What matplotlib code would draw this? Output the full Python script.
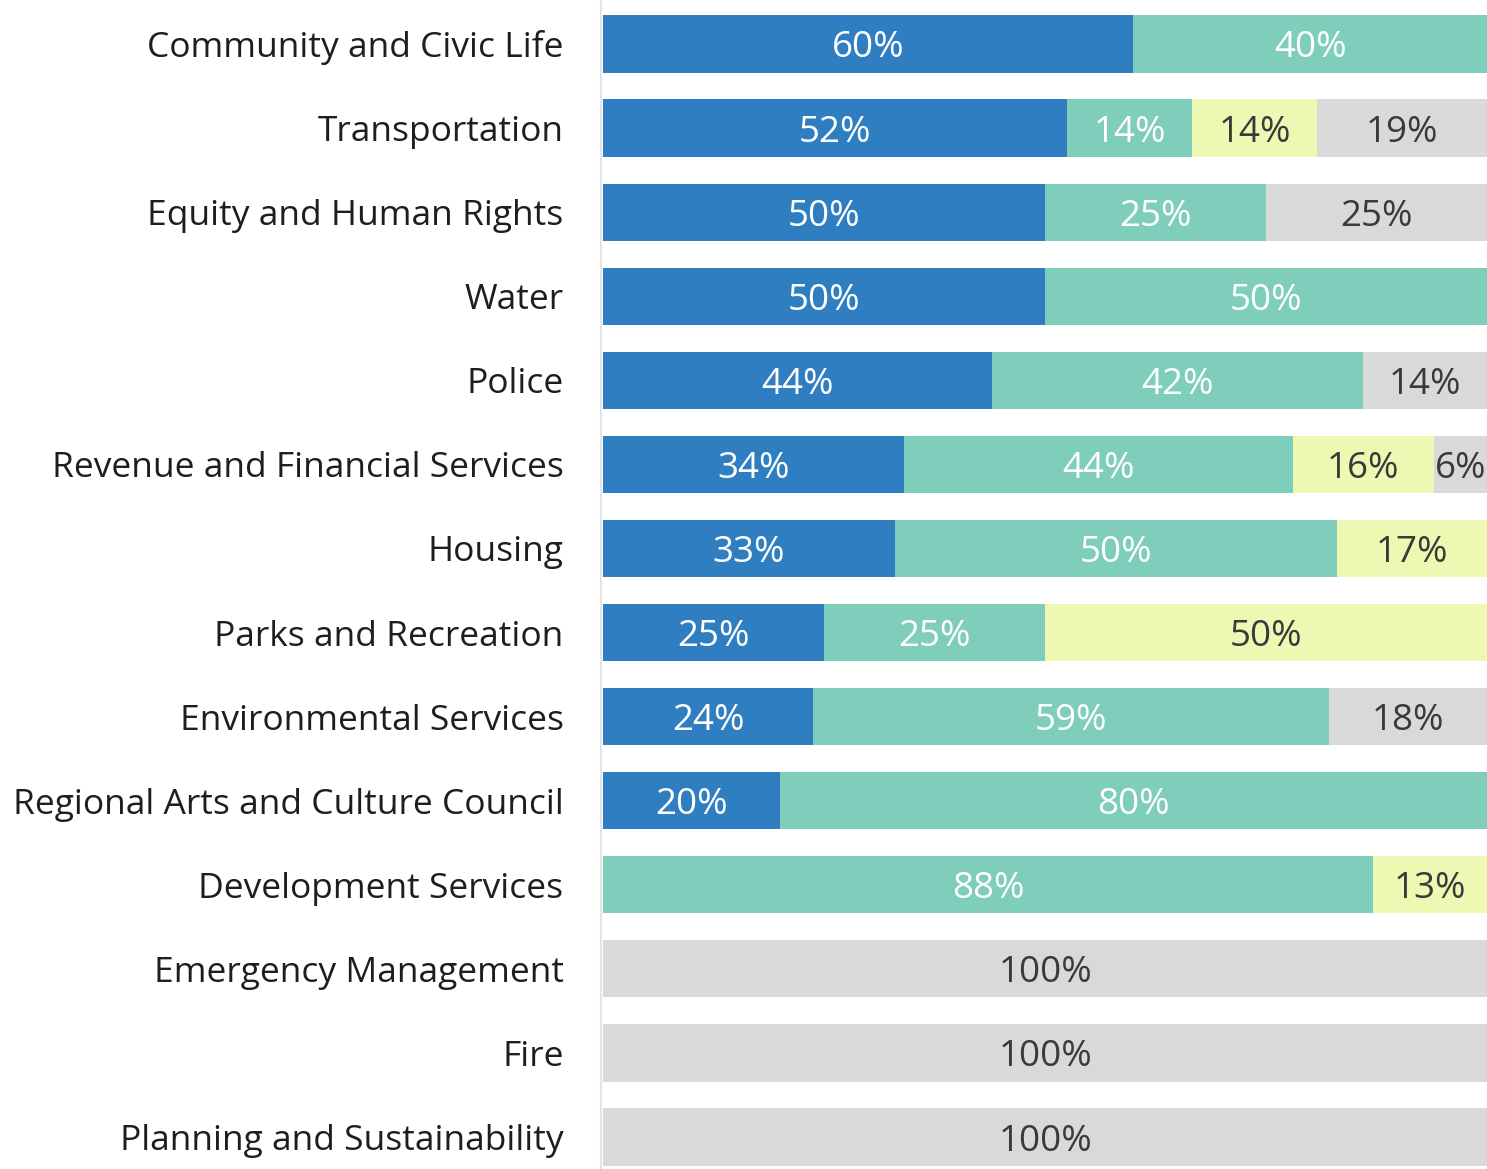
import matplotlib.pyplot as plt
import numpy as np

plt.rcParams['font.family'] = ['Open Sans', 'DejaVu Sans']

categories = [
    'Community and Civic Life',
    'Transportation',
    'Equity and Human Rights',
    'Water',
    'Police',
    'Revenue and Financial Services',
    'Housing',
    'Parks and Recreation',
    'Environmental Services',
    'Regional Arts and Culture Council',
    'Development Services',
    'Emergency Management',
    'Fire',
    'Planning and Sustainability',
]

# percent shares per segment, left to right
blue_pct = [60, 52, 50, 50, 44, 34, 33, 25, 24, 20, 0, 0, 0, 0]
teal_pct = [40, 14, 25, 50, 42, 44, 50, 25, 59, 80, 88, 0, 0, 0]
yellow_pct = [0, 14, 0, 0, 0, 16, 17, 50, 0, 0, 13, 0, 0, 0]
gray_pct = [0, 19, 25, 0, 14, 6, 0, 0, 18, 0, 0, 100, 100, 100]

series = [blue_pct, teal_pct, yellow_pct, gray_pct]
colors = ['#2e7ec1', '#7fcdbb', '#eef8b3', '#d9d9d9']
text_colors = ['white', 'white', '#3a3a3a', '#3a3a3a']

vals = np.array(series, dtype=float)
totals = vals.sum(axis=0)
shares = vals / totals * 100  # rounded labels don't always add to 100

fig = plt.figure(figsize=(14.87, 11.69), dpi=100)
ax = fig.add_axes([601 / 1487, 0, 1 - 601 / 1487, 1])

y = np.arange(len(categories))
left = np.zeros(len(categories))
for k in range(len(series)):
    ax.barh(y, shares[k], left=left, height=0.68, color=colors[k], linewidth=0)
    for i in range(len(categories)):
        if vals[k, i] > 0:
            ax.text(left[i] + shares[k, i] / 2, y[i], f'{int(vals[k, i])}%',
                    ha='center', va='center_baseline', fontsize=26.5,
                    color=text_colors[k])
    left += shares[k]

ax.set_xlim(-0.25, 100)
ax.set_ylim(13.38, -0.523)
ax.set_yticks(y)
ax.set_yticklabels(categories, fontsize=25.5, color='#1e1e1e',
                   va='center_baseline')
ax.tick_params(axis='y', length=0, pad=27)
ax.set_xticks([])
for side in ['top', 'right', 'bottom']:
    ax.spines[side].set_visible(False)
ax.spines['left'].set_color('#e4e4e4')
ax.spines['left'].set_linewidth(1.5)

fig.savefig('out.png', dpi=100)
